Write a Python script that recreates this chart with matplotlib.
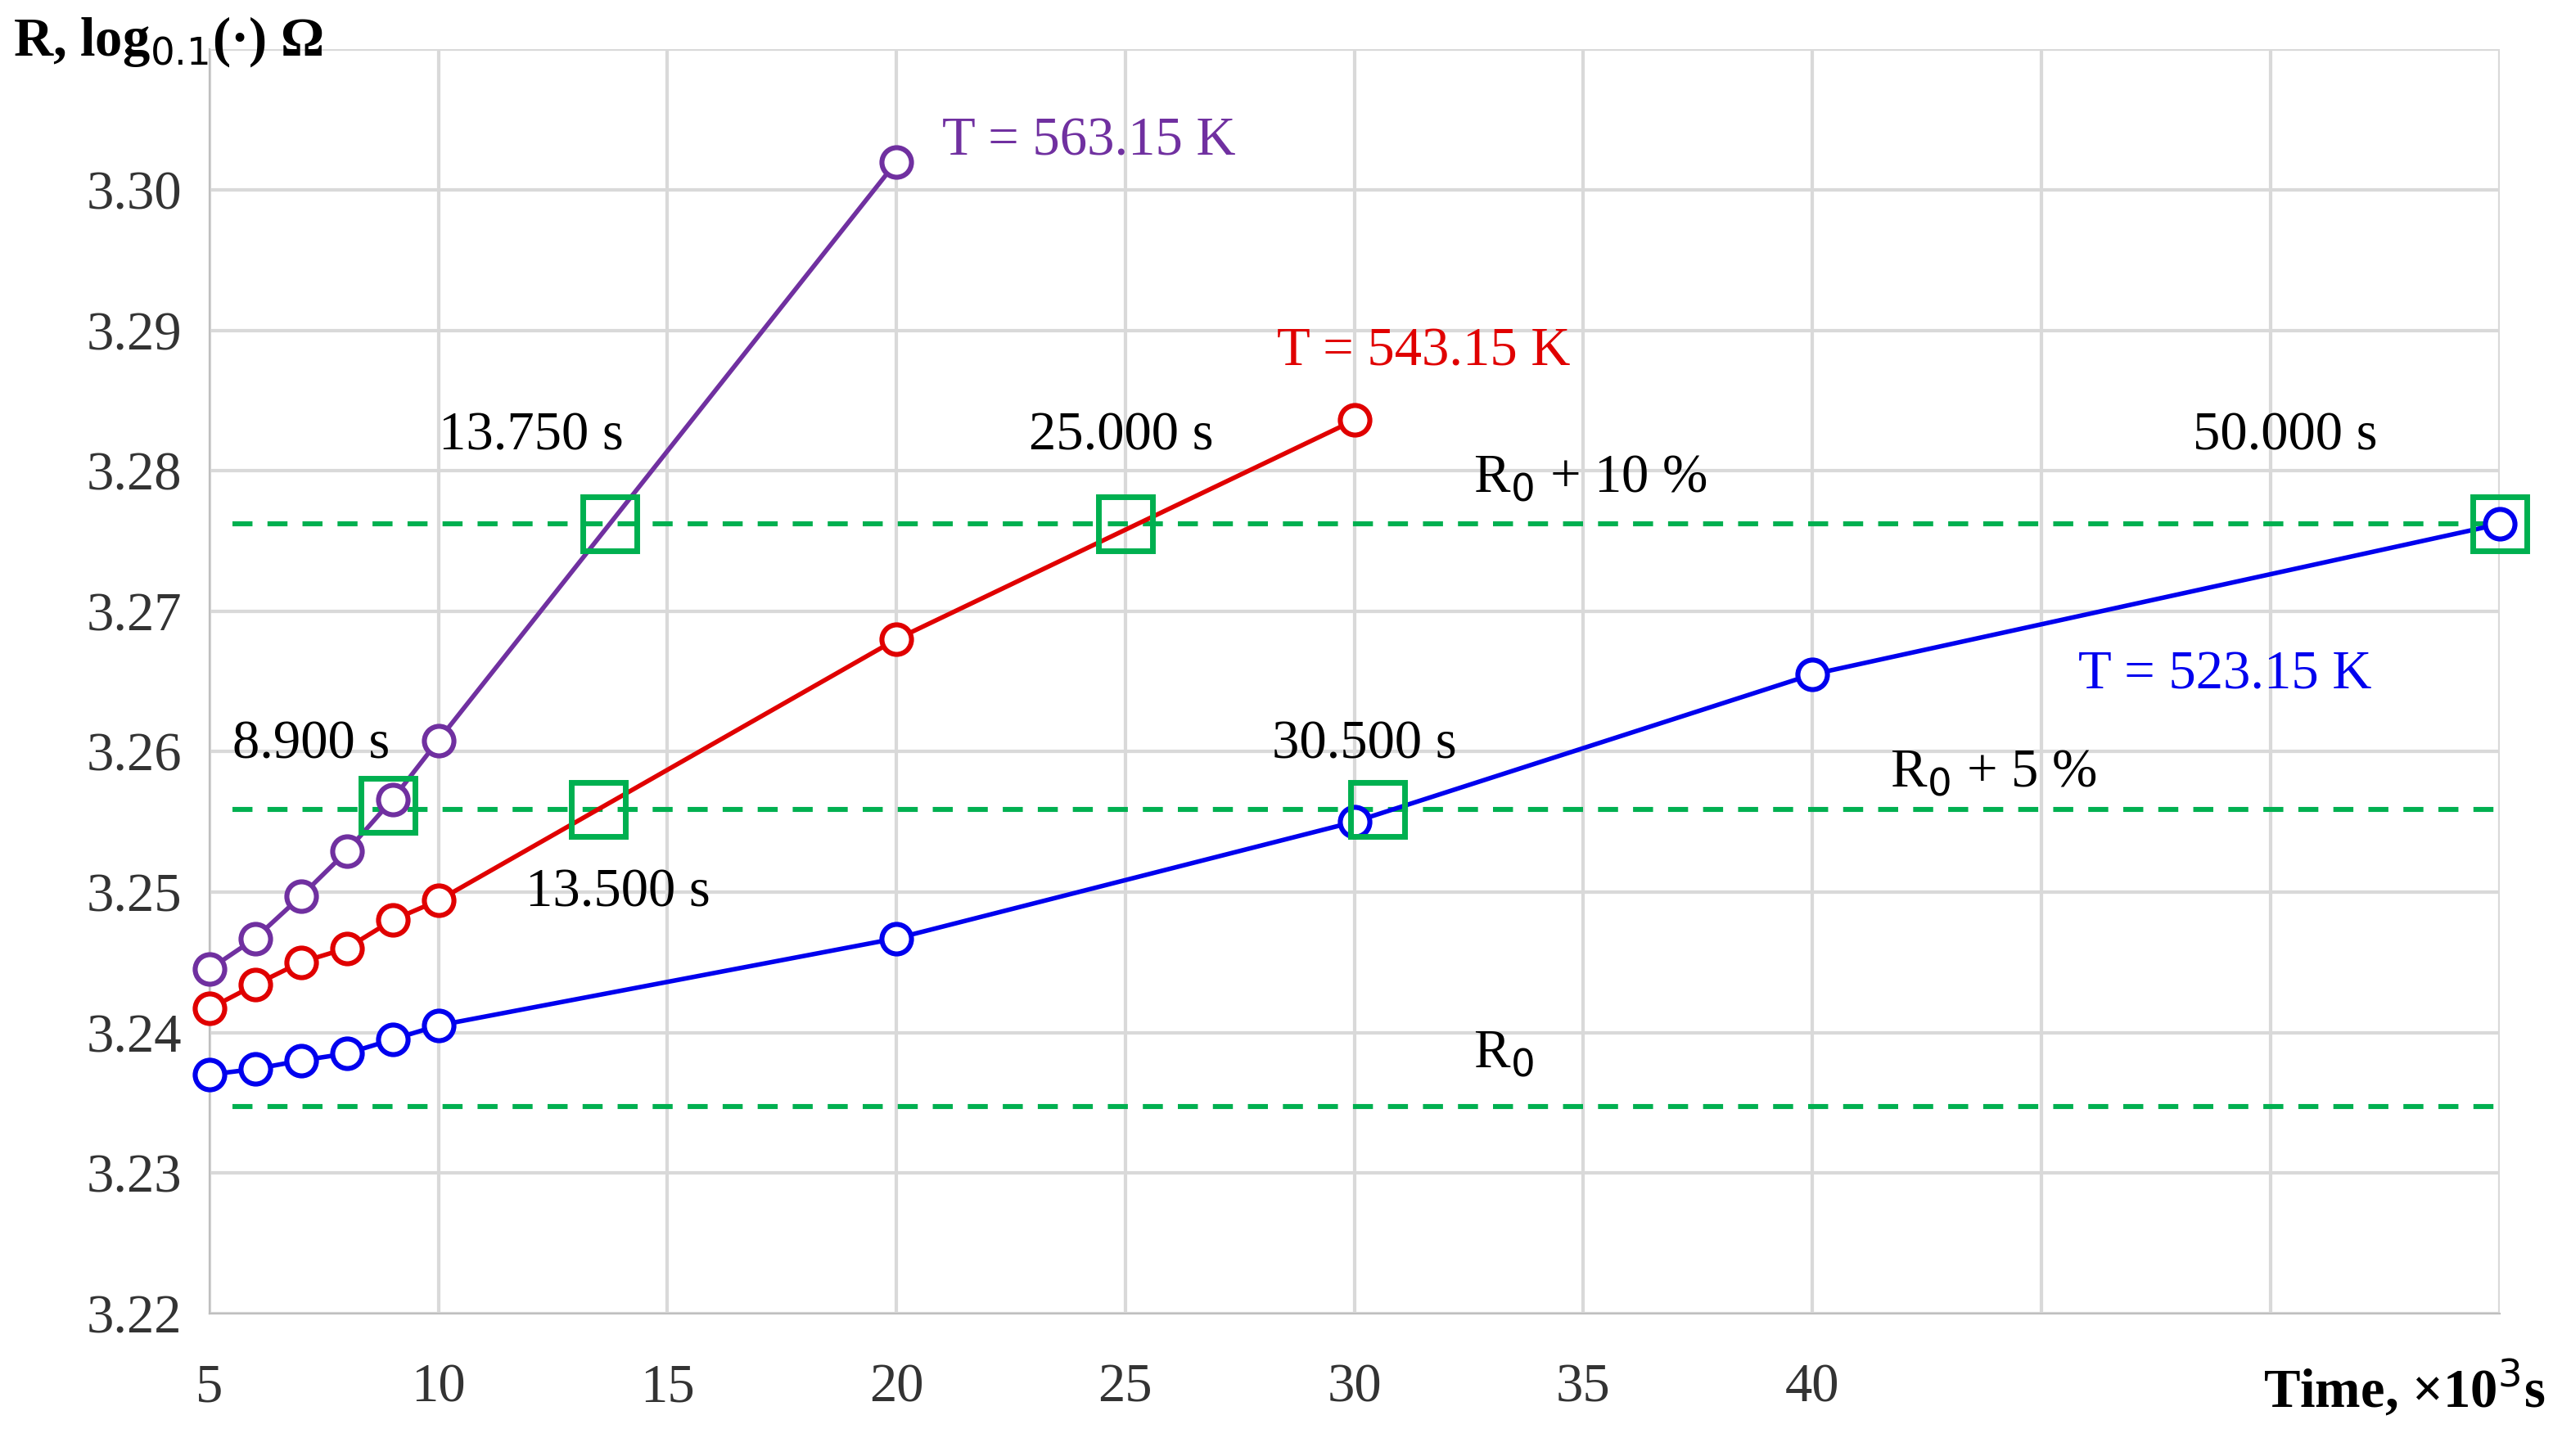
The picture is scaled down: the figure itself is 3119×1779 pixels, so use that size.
import matplotlib.pyplot as plt

t_purple = [5, 6, 7, 8, 9, 10, 20]
r_purple = [3.2445, 3.2467, 3.2497, 3.2529, 3.2566, 3.2608, 3.3020]
t_red = [5, 6, 7, 8, 9, 10, 20, 30]
r_red = [3.2417, 3.2434, 3.2450, 3.2460, 3.2480, 3.2494, 3.2680, 3.2836]
t_blue = [5, 6, 7, 8, 9, 10, 20, 30, 40, 55]
r_blue = [3.2370, 3.2374, 3.2380, 3.2385, 3.2395, 3.2405, 3.2467, 3.2550, 3.2655, 3.2762]
levels = [3.2347, 3.2559, 3.2762]
sq_t = [8.9, 13.5, 13.75, 25, 30.5, 55]
sq_r = [3.2562, 3.2559, 3.2762, 3.2762, 3.2559, 3.2762]

plt.rcParams['font.family'] = ['Liberation Serif', 'DejaVu Serif']
fig = plt.figure(figsize=(15.595, 8.895), dpi=200)
ax = fig.add_axes([0.082, 0.098, 0.897, 0.868])

green = '#00b050'
for y in levels:
    ax.plot([5.5, 55], [y, y], color=green, ls='--', lw=2.2, dashes=(4, 3), zorder=2)

for t, r, c in [(t_purple, r_purple, '#7030a0'), (t_red, r_red, '#e00000'), (t_blue, r_blue, '#0000ee')]:
    ax.plot(t, r, color=c, lw=2, marker='o', ms=13, mfc='white', mew=2.2, zorder=3, clip_on=False)

ax.plot(sq_t, sq_r, ls='none', marker='s', ms=24, mfc='none', mec=green, mew=2.5, zorder=4, clip_on=False)

fs = 24
ax.text(21.0, 3.3025, 'T = 563.15 K', color='#7030a0', fontsize=fs)
ax.text(28.3, 3.2875, 'T = 543.15 K', color='#e00000', fontsize=fs)
ax.text(45.8, 3.2645, 'T = 523.15 K', color='#0000ee', fontsize=fs)
ax.text(10.0, 3.2815, '13.750 s', fontsize=fs)
ax.text(22.9, 3.2815, '25.000 s', fontsize=fs)
ax.text(48.3, 3.2815, '50.000 s', fontsize=fs)
ax.text(5.5, 3.2595, '8.900 s', fontsize=fs)
ax.text(11.9, 3.2490, '13.500 s', fontsize=fs)
ax.text(28.2, 3.2595, '30.500 s', fontsize=fs)
ax.text(32.6, 3.2785, 'R$_0$ + 10 %', fontsize=fs)
ax.text(41.7, 3.2575, 'R$_0$ + 5 %', fontsize=fs)
ax.text(32.6, 3.2375, 'R$_0$', fontsize=fs)

ax.set_xlim(5, 55)
ax.set_ylim(3.22, 3.31)
ax.set_xticks(range(5, 56, 5))
ax.set_xticklabels([str(v) if v <= 40 else '' for v in range(5, 56, 5)])
ax.set_yticks([3.22 + 0.01 * i for i in range(10)])
ax.set_yticklabels(['%.2f' % (3.22 + 0.01 * i) for i in range(9)] + [''])
ax.grid(True, color='#d9d9d9', lw=1.5)
ax.set_axisbelow(True)
for s in ['top', 'right']:
    ax.spines[s].set_visible(False)
ax.spines['left'].set_color('#bfbfbf')
ax.spines['bottom'].set_color('#bfbfbf')
ax.tick_params(length=0, labelsize=fs, colors='#333333', pad=22)
ax.tick_params(axis='y', pad=12)
ax.text(1.02, -0.035, 'Time, ×10$^3$s', transform=ax.transAxes, ha='right', va='top',
        fontsize=fs, fontweight='bold')
fig.text(0.005, 0.99, 'R, log$_{0.1}$(·) Ω', fontsize=fs, fontweight='bold', va='top')

fig.savefig('out.png', dpi=200)
